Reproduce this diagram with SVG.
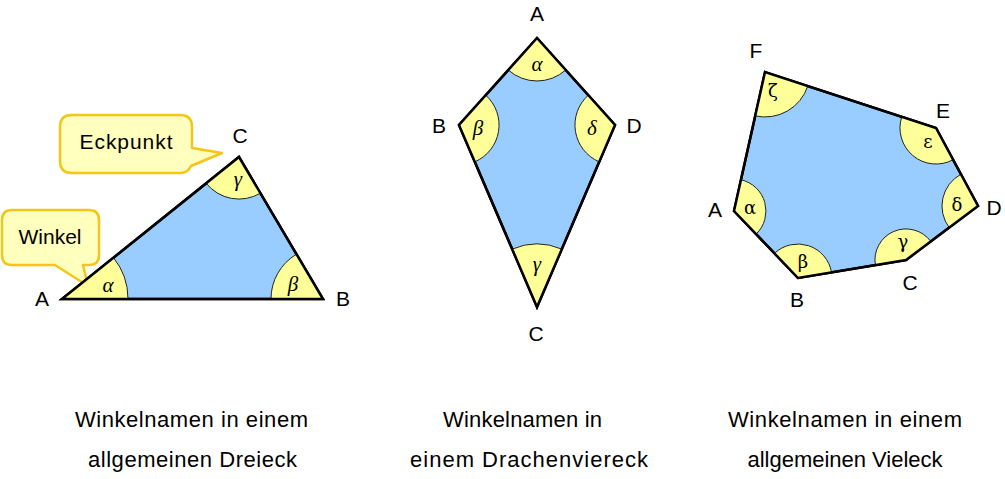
<svg xmlns="http://www.w3.org/2000/svg" width="1005" height="479" viewBox="0 0 1005 479">
<style>
.shape{fill:#99ccff;stroke:#000;stroke-width:2.5;stroke-linejoin:miter}
.ang{fill:#ffff99;stroke:#222;stroke-width:1}
.bubble{fill:#ffffbe;stroke:#f5c518;stroke-width:2.5;stroke-linejoin:round}
.lbl{font-family:"Liberation Sans",Arial,sans-serif;font-size:21px;fill:#000;text-anchor:middle}
.cl{font-family:"Liberation Sans",Arial,sans-serif;font-size:21px;fill:#000;text-anchor:middle}
.gk{font-family:"Liberation Serif","Times New Roman",serif;font-size:21px;font-style:italic;fill:#000;text-anchor:middle}
.gu{font-family:"DejaVu Serif","Liberation Serif",serif;font-size:18px;fill:#000;text-anchor:middle}
.cap{font-family:"Liberation Sans",Arial,sans-serif;font-size:22px;fill:#000;text-anchor:middle}
</style>
<rect width="1005" height="479" fill="#fff"/>

<g id="callout-winkel">
<path class="bubble" d="M12,210 H89 Q99,210 99,220 V255 Q99,265 89,265 H83 L88,286 L55,265 H12 Q2,265 2,255 V220 Q2,210 12,210 Z"/>
<text class="cl" x="50" y="244">Winkel</text>
</g>
<g id="callout-eckpunkt">
<path class="bubble" d="M72,115 H180 Q192,115 192,127 V148 L222,153 L191,166 Q188,173 180,173 H72 Q60,173 60,161 V127 Q60,115 72,115 Z"/>
<text class="cl" x="126" y="149" textLength="93" lengthAdjust="spacing">Eckpunkt</text>
</g>

<g id="triangle">
<path class="shape" d="M62,299 L323,299 L239,157 Z"/>
<path class="ang" d="M62,299 L128,299 A66,66 0 0 0 113.5,257.7 Z"/>
<path class="ang" d="M323,299 L271,299 A52,52 0 0 1 296.5,254.2 Z"/>
<path class="ang" d="M239,157 L206.2,183.3 A42,42 0 0 0 260.4,193.2 Z"/>
<path d="M62,299 L323,299 L239,157 Z" fill="none" stroke="#000" stroke-width="2.5"/>
<text class="gk" x="108" y="292">α</text>
<text class="gk" x="293" y="291">β</text>
<text class="gk" x="238" y="186">γ</text>
<text class="lbl" x="42" y="306">A</text>
<text class="lbl" x="343" y="306">B</text>
<text class="lbl" x="240" y="143">C</text>
</g>

<g id="kite">
<path class="shape" d="M537,38 L615,125 L537,307 L459,125 Z"/>
<path class="ang" d="M537,38 L508.3,70 A43,43 0 0 0 565.7,70 Z"/>
<path class="ang" d="M459,125 L485.7,95.2 A40,40 0 0 1 474.8,161.8 Z"/>
<path class="ang" d="M615,125 L588.3,95.2 A40,40 0 0 0 599.2,161.8 Z"/>
<path class="ang" d="M537,307 L512.2,249.1 A63,63 0 0 1 561.8,249.1 Z"/>
<path d="M537,38 L615,125 L537,307 L459,125 Z" fill="none" stroke="#000" stroke-width="2.5"/>
<text class="gk" x="537" y="71">α</text>
<text class="gk" x="478" y="135">β</text>
<text class="gk" x="592" y="135">δ</text>
<text class="gk" x="537" y="271">γ</text>
<text class="lbl" x="537" y="21">A</text>
<text class="lbl" x="439" y="133">B</text>
<text class="lbl" x="634" y="133">D</text>
<text class="lbl" x="536" y="341">C</text>
</g>

<g id="polygon">
<path class="shape" d="M734,211 L798,278 L906,260 L978,206 L936,128 L765,72 Z"/>
<path class="ang" d="M765,72 L807.8,86 A45,45 0 0 1 755.2,115.9 Z"/>
<path class="ang" d="M936,128 L901.8,116.8 A36,36 0 0 0 953.1,159.7 Z"/>
<path class="ang" d="M978,206 L960.9,174.3 A36,36 0 0 0 949.2,227.6 Z"/>
<path class="ang" d="M906,260 L930.8,241.4 A31,31 0 0 0 875.4,265.1 Z"/>
<path class="ang" d="M798,278 L831.5,272.4 A34,34 0 0 0 774.5,253.4 Z"/>
<path class="ang" d="M734,211 L756.1,234.1 A32,32 0 0 0 741,179.8 Z"/>
<path d="M734,211 L798,278 L906,260 L978,206 L936,128 L765,72 Z" fill="none" stroke="#000" stroke-width="2.5"/>
<text class="gu" x="773" y="97">ζ</text>
<text class="gu" x="928" y="148">ε</text>
<text class="gu" x="957" y="211">δ</text>
<text class="gu" x="903" y="248">γ</text>
<text class="gu" x="803" y="268">β</text>
<text class="gu" x="750" y="214">α</text>
<text class="lbl" x="756" y="58">F</text>
<text class="lbl" x="943" y="118">E</text>
<text class="lbl" x="994" y="215">D</text>
<text class="lbl" x="910" y="290">C</text>
<text class="lbl" x="797" y="307">B</text>
<text class="lbl" x="715" y="217">A</text>
</g>

<g id="captions">
<text class="cap" x="191.5" y="427" textLength="233" lengthAdjust="spacing">Winkelnamen in einem</text>
<text class="cap" x="192.5" y="467" textLength="209" lengthAdjust="spacing">allgemeinen Dreieck</text>
<text class="cap" x="522.5" y="427" textLength="159" lengthAdjust="spacing">Winkelnamen in</text>
<text class="cap" x="529" y="467" textLength="238" lengthAdjust="spacing">einem Drachenviereck</text>
<text class="cap" x="845" y="427" textLength="234" lengthAdjust="spacing">Winkelnamen in einem</text>
<text class="cap" x="845" y="467" textLength="195" lengthAdjust="spacing">allgemeinen Vieleck</text>
</g>
</svg>
